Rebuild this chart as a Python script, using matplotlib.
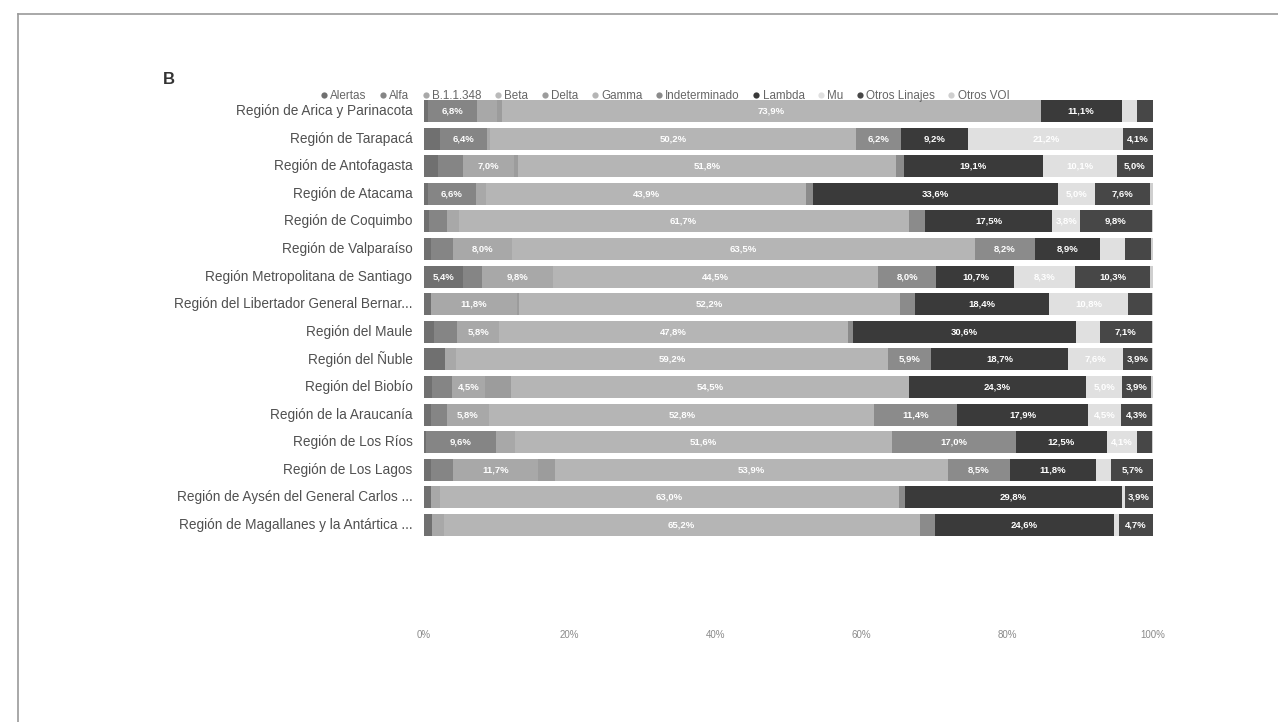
import matplotlib
matplotlib.use("Agg")
import matplotlib.pyplot as plt
from matplotlib.lines import Line2D
import numpy as np

regions = [
    "Región de Arica y Parinacota",
    "Región de Tarapacá",
    "Región de Antofagasta",
    "Región de Atacama",
    "Región de Coquimbo",
    "Región de Valparaíso",
    "Región Metropolitana de Santiago",
    "Región del Libertador General Bernar...",
    "Región del Maule",
    "Región del Ñuble",
    "Región del Biobío",
    "Región de la Araucanía",
    "Región de Los Ríos",
    "Región de Los Lagos",
    "Región de Aysén del General Carlos ...",
    "Región de Magallanes y la Antártica ...",
]

series = ["Alertas", "Alfa", "B.1.1.348", "Beta", "Delta", "Gamma",
          "Indeterminado", "Lambda", "Mu", "Otros Linajes", "Otros VOI"]

alertas       = [0.6, 2.3, 2.0, 0.6, 0.8, 1.0, 5.4, 1.0, 1.5, 2.9, 1.2, 1.0, 0.3, 1.0, 1.0, 1.2]
alfa          = [6.8, 6.4, 3.4, 6.6, 2.4, 3.1, 2.6, 0.0, 3.1, 0.0, 2.7, 2.2, 9.6, 3.0, 0.0, 0.0]
b11348        = [2.7, 0.4, 7.0, 1.4, 1.6, 8.0, 9.8, 11.8, 5.8, 1.6, 4.5, 5.8, 2.7, 11.7, 1.2, 1.6]
beta          = [0.0, 0.0, 0.0, 0.0, 0.0, 0.0, 0.0, 0.0, 0.0, 0.0, 0.0, 0.0, 0.0, 0.0, 0.0, 0.0]
delta         = [0.6, 0.0, 0.6, 0.0, 0.0, 0.0, 0.0, 0.3, 0.0, 0.0, 3.6, 0.0, 0.0, 2.3, 0.0, 0.0]
gamma         = [73.9, 50.2, 51.8, 43.9, 61.7, 63.5, 44.5, 52.2, 47.8, 59.2, 54.5, 52.8, 51.6, 53.9, 63.0, 65.2]
indeterminado = [0.0, 6.2, 1.0, 0.9, 2.2, 8.2, 8.0, 2.1, 0.7, 5.9, 0.0, 11.4, 17.0, 8.5, 0.8, 2.1]
lambda_       = [11.1, 9.2, 19.1, 33.6, 17.5, 8.9, 10.7, 18.4, 30.6, 18.7, 24.3, 17.9, 12.5, 11.8, 29.8, 24.6]
mu            = [2.1, 21.2, 10.1, 5.0, 3.8, 3.4, 8.3, 10.8, 3.2, 7.6, 5.0, 4.5, 4.1, 2.1, 0.3, 0.6]
otros_linajes = [2.2, 4.1, 5.0, 7.6, 9.8, 3.6, 10.3, 3.2, 7.1, 3.9, 3.9, 4.3, 2.0, 5.7, 3.9, 4.7]
otros_voi     = [0.0, 0.0, 0.0, 0.4, 0.2, 0.3, 0.4, 0.2, 0.2, 0.2, 0.3, 0.1, 0.2, 0.0, 0.0, 0.0]

xtick_labels = ["0%", "20%", "40%", "60%", "80%", "100%"]
xtick_values = [0, 20, 40, 60, 80, 100]

data = [alertas, alfa, b11348, beta, delta, gamma, indeterminado,
        lambda_, mu, otros_linajes, otros_voi]
colors = ["#707070", "#858585", "#a8a8a8", "#bababa", "#9c9c9c", "#b5b5b5",
          "#8b8b8b", "#3a3a3a", "#e0e0e0", "#474747", "#cfcfcf"]

plt.rcParams["font.family"] = ["Liberation Sans", "DejaVu Sans"]

W, H = 1278, 722
fig = plt.figure(figsize=(W / 100, H / 100), dpi=100, facecolor="white")

# scanned page frame
fig.add_artist(Line2D([18 / W, 1.0], [1 - 14 / H, 1 - 14 / H], color="#9a9a9a", lw=1.2))
fig.add_artist(Line2D([18 / W, 18 / W], [0.0, 1 - 14 / H], color="#9a9a9a", lw=1.2))

top_px, bot_px = 97.2, 538.8
left_px, right_px = 423.5, 1153.0
ax = fig.add_axes([left_px / W, 1 - bot_px / H,
                   (right_px - left_px) / W, (bot_px - top_px) / H])

y = np.arange(len(regions))
left = np.zeros(len(regions))
for name, vals, col in zip(series, data, colors):
    vals = np.array(vals, dtype=float)
    ax.barh(y, vals, left=left, height=0.8, color=col, edgecolor="none", label=name)
    for yi, (l, v) in enumerate(zip(left, vals)):
        if v >= 3.8:
            txt = f"{v:.1f}".replace(".", ",") + "%"
            ax.text(l + v / 2, yi, txt, ha="center", va="center",
                    fontsize=6.8, color="white", fontweight="bold")
    left += vals

ax.set_xlim(0, 100)
ax.set_ylim(len(regions) - 0.5, -0.5)
ax.set_yticks(y)
ax.set_yticklabels(regions, fontsize=9.8, color="#505050", va="center")
ax.set_xticks(xtick_values)
ax.set_xticklabels(xtick_labels, fontsize=7, color="#8a8a8a")
ax.tick_params(axis="y", length=0, pad=8)
ax.tick_params(axis="x", length=0, pad=66)
for s in ax.spines.values():
    s.set_visible(False)
ax.set_facecolor("white")

fig.text(163 / W, 1 - 80 / H, "B", fontsize=12, fontweight="bold",
         color="#333333", ha="left", va="center")

handles = [Line2D([], [], marker="o", linestyle="none", markersize=4.5,
                  markerfacecolor=c, markeredgecolor="none") for c in colors]
fig.legend(handles, series, loc="center", bbox_to_anchor=(664 / W, 1 - 96 / H),
           ncol=len(series), frameon=False, fontsize=8.4, handletextpad=0.1,
           columnspacing=0.95, handlelength=0.9, labelcolor="#666666",
           borderaxespad=0, borderpad=0)

fig.savefig("out.png", dpi=100, facecolor="white")
